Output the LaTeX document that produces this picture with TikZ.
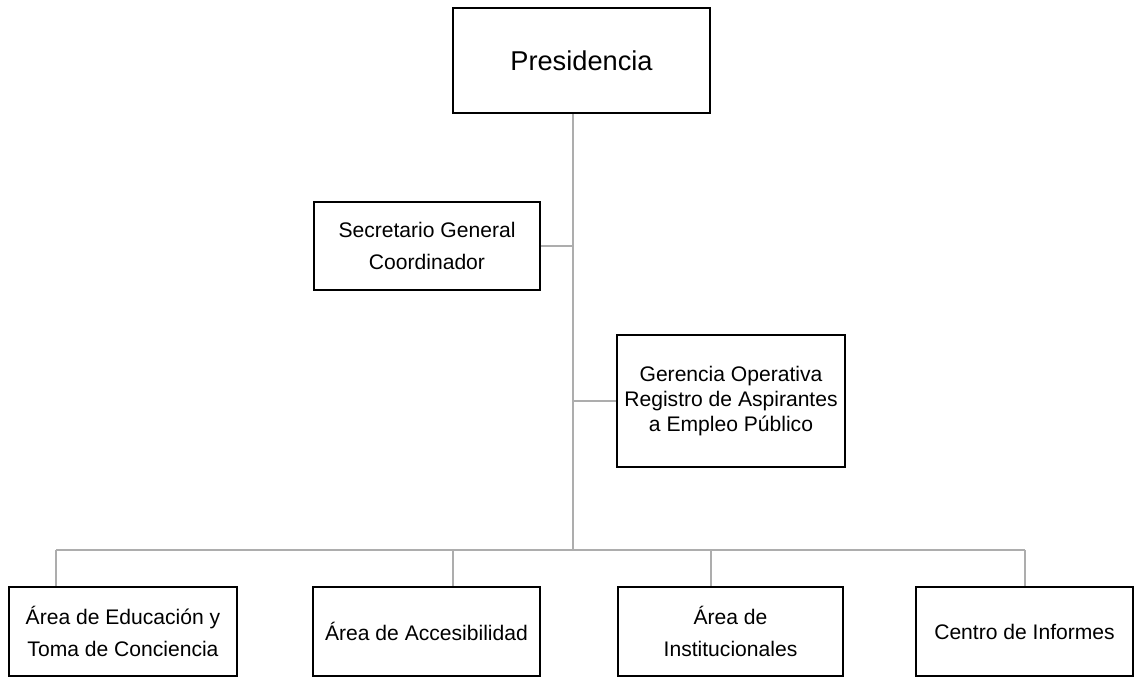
\documentclass[tikz,border=0pt]{standalone}
\usepackage{fontspec}
\setmainfont{Liberation Sans}
\usetikzlibrary{calc}

\begin{document}
\begin{tikzpicture}[x=0.02cm,y=-0.02cm,
  every node/.style={draw,line width=1.1pt,align=center,inner sep=0pt,
    font=\fontsize{12}{18.5}\selectfont},
  link/.style={draw=black!32,line width=1.1pt}]
  \useasboundingbox (0,0) rectangle (1135,677);
  \path (581.5,60.5) node[line width=1.6pt,minimum width=257*0.02cm,minimum height=105*0.02cm,
      font=\fontsize{15.5}{18}\selectfont] (pres) {Presidencia}
  (427,246) node[minimum width=226*0.02cm,minimum height=88*0.02cm] (sec) {Secretario General\\Coordinador}
  (731,401) node[minimum width=228*0.02cm,minimum height=132*0.02cm,
      font=\fontsize{12}{14.4}\selectfont] (ger) {Gerencia Operativa\\Registro de Aspirantes\\a Empleo Público}
  (123,631.5) node[minimum width=228*0.02cm,minimum height=89*0.02cm] (edu) {Área de Educación y\\Toma de Conciencia}
  (426.5,631.5) node[minimum width=227*0.02cm,minimum height=89*0.02cm] (acc) {Área de Accesibilidad}
  (730.5,631.5) node[minimum width=225*0.02cm,minimum height=89*0.02cm] (inst) {Área de\\Institucionales}
  (1024.5,631.5) node[minimum width=217*0.02cm,minimum height=89*0.02cm] (cen) {Centro de Informes};
  \coordinate (top) at (573,114);
  \coordinate (hub) at (573,550);
  \coordinate (d1) at (56,550);
  \coordinate (d2) at (453,550);
  \coordinate (d3) at (711,550);
  \coordinate (d4) at (1025,550);
  \draw[link] (top) -- (hub);
  \draw[link] (sec.east) -- (sec.east -| hub);
  \draw[link] (ger.west) -- (ger.west -| hub);
  \draw[link] (d1) -- (d4);
  \draw[link] (d1) -- (d1 |- edu.north);
  \draw[link] (d2) -- (d2 |- acc.north);
  \draw[link] (d3) -- (d3 |- inst.north);
  \draw[link] (d4) -- (d4 |- cen.north);
\end{tikzpicture}
\end{document}
